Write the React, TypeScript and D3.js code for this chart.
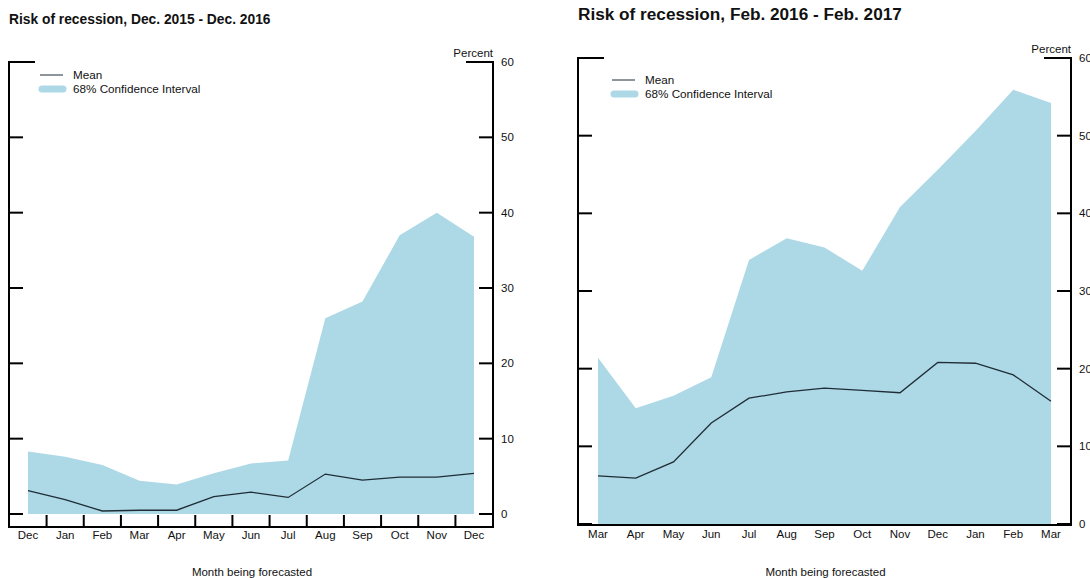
import React from "react";
import * as d3 from "d3";

const monthsA = ["Dec", "Jan", "Feb", "Mar", "Apr", "May", "Jun", "Jul", "Aug", "Sep", "Oct", "Nov", "Dec"];
const upperA = [8.3, 7.6, 6.5, 4.4, 3.9, 5.4, 6.7, 7.1, 26.0, 28.2, 37.0, 40.0, 36.8];
const lowerA = [0, 0, 0, 0, 0, 0, 0, 0, 0, 0, 0, 0, 0];
const meanA = [3.1, 1.9, 0.4, 0.5, 0.5, 2.3, 2.9, 2.2, 5.3, 4.5, 4.9, 4.9, 5.4];

const monthsB = ["Mar", "Apr", "May", "Jun", "Jul", "Aug", "Sep", "Oct", "Nov", "Dec", "Jan", "Feb", "Mar"];
const upperB = [21.4, 14.9, 16.5, 18.9, 34.0, 36.8, 35.6, 32.6, 40.8, 45.6, 50.6, 55.9, 54.2];
const lowerB = [0, 0, 0, 0, 0, 0, 0, 0, 0, 0, 0, 0, 0];
const meanB = [6.2, 5.9, 8.0, 13.0, 16.2, 17.0, 17.5, 17.2, 16.9, 20.8, 20.7, 19.2, 15.8];

const yTicks = [0, 10, 20, 30, 40, 50, 60];

const FILL = "#add8e6";
const LINE = "#1f2d36";
const FONT = "'Liberation Sans', Arial, Helvetica, sans-serif";

type PanelProps = {
  title: string;
  months: string[];
  upper: number[];
  lower: number[];
  mean: number[];
  left: number;
  right: number;
  y0: number;
  y60: number;
  axisY: number;
  topY: number;
  x0: number;
  x1: number;
  titleY: number;
  titleSize: number;
  legendY: number;
  legendX: number;
  labelY: number;
  showXTicks: boolean;
};

function Panel(p: PanelProps) {
  const idx = p.months.map((_, i) => i);
  const x = d3.scaleLinear().domain([0, p.months.length - 1]).range([p.x0, p.x1]);
  const y = d3.scaleLinear().domain([0, 60]).range([p.y0, p.y60]);
  const area = d3
    .area<number>()
    .x((i) => x(i))
    .y0((i) => y(p.lower[i]))
    .y1((i) => y(p.upper[i]));
  const line = d3
    .line<number>()
    .x((i) => x(i))
    .y((i) => y(p.mean[i]));
  const midTicks = idx.slice(0, -1).map((i) => i + 0.5);
  return (
    <g fontFamily={FONT}>
      <text x={p.left} y={p.titleY} fontSize={p.titleSize} fontWeight="bold" fill="#111">
        {p.title}
      </text>
      <path d={area(idx) || ""} fill={FILL} />
      <path d={line(idx) || ""} fill="none" stroke={LINE} strokeWidth={1.3} />
      {/* frame */}
      <line x1={p.left} x2={p.left} y1={p.topY} y2={p.axisY + 1} stroke="#000" strokeWidth={2} />
      <line x1={p.right} x2={p.right} y1={p.topY} y2={p.axisY + 1} stroke="#000" strokeWidth={2} />
      <line x1={p.left - 1} x2={p.right + 1} y1={p.axisY} y2={p.axisY} stroke="#000" strokeWidth={2} />
      <line x1={p.left - 1} x2={p.left + 26} y1={p.topY} y2={p.topY} stroke="#000" strokeWidth={2} />
      <line x1={p.right - 27} x2={p.right + 1} y1={p.topY} y2={p.topY} stroke="#000" strokeWidth={2} />
      {yTicks.slice(0, -1).map((t) => (
        <g key={t}>
          <line x1={p.left} x2={p.left + 14} y1={y(t)} y2={y(t)} stroke="#000" strokeWidth={2} />
          <line x1={p.right - 14} x2={p.right} y1={y(t)} y2={y(t)} stroke="#000" strokeWidth={2} />
        </g>
      ))}
      {yTicks.map((t) => (
        <text key={"l" + t} x={p.right + 8} y={y(t)} dy="0.35em" fontSize={11.5} fill="#111">
          {t}
        </text>
      ))}
      <text x={p.right} y={p.topY - 5} fontSize={11.5} textAnchor="end" fill="#111">
        Percent
      </text>
      {p.showXTicks &&
        midTicks.map((t) => (
          <line key={t} x1={x(t)} x2={x(t)} y1={p.axisY} y2={p.axisY - 12} stroke="#000" strokeWidth={2} />
        ))}
      {p.months.map((m, i) => (
        <text key={i} x={x(i)} y={p.labelY} fontSize={11.5} textAnchor="middle" fill="#111">
          {m}
        </text>
      ))}
      <text x={(p.left + p.right) / 2 + 1} y={576} fontSize={11.5} textAnchor="middle" fill="#111">
        Month being forecasted
      </text>
      {/* legend */}
      <line x1={p.legendX} x2={p.legendX + 23} y1={p.legendY} y2={p.legendY} stroke={LINE} strokeWidth={1} />
      <text x={p.legendX + 33} y={p.legendY + 4} fontSize={11.7} fill="#111">
        Mean
      </text>
      <line
        x1={p.legendX + 2}
        x2={p.legendX + 23}
        y1={p.legendY + 14}
        y2={p.legendY + 14}
        stroke={FILL}
        strokeWidth={7}
        strokeLinecap="round"
      />
      <text x={p.legendX + 33} y={p.legendY + 18} fontSize={11.7} fill="#111">
        68% Confidence Interval
      </text>
    </g>
  );
}

export default function App() {
  return (
    <svg
      width={1090}
      height={578}
      style={{ position: "absolute", left: 0, top: 0, background: "#fff" }}
    >
      <rect width={1090} height={578} fill="#fff" />
      <Panel
        title="Risk of recession, Dec. 2015 - Dec. 2016"
        months={monthsA}
        upper={upperA}
        lower={lowerA}
        mean={meanA}
        left={9}
        right={493}
        y0={514}
        y60={62}
        axisY={527}
        topY={62}
        x0={28}
        x1={474}
        titleY={24}
        titleSize={13.8}
        legendY={75}
        legendX={40}
        labelY={539}
        showXTicks={true}
      />
      <Panel
        title="Risk of recession, Feb. 2016 - Feb. 2017"
        months={monthsB}
        upper={upperB}
        lower={lowerB}
        mean={meanB}
        left={578}
        right={1071}
        y0={524}
        y60={58}
        axisY={525}
        topY={58}
        x0={598}
        x1={1051}
        titleY={20}
        titleSize={17.2}
        legendY={80}
        legendX={612}
        labelY={538}
        showXTicks={false}
      />
    </svg>
  );
}
